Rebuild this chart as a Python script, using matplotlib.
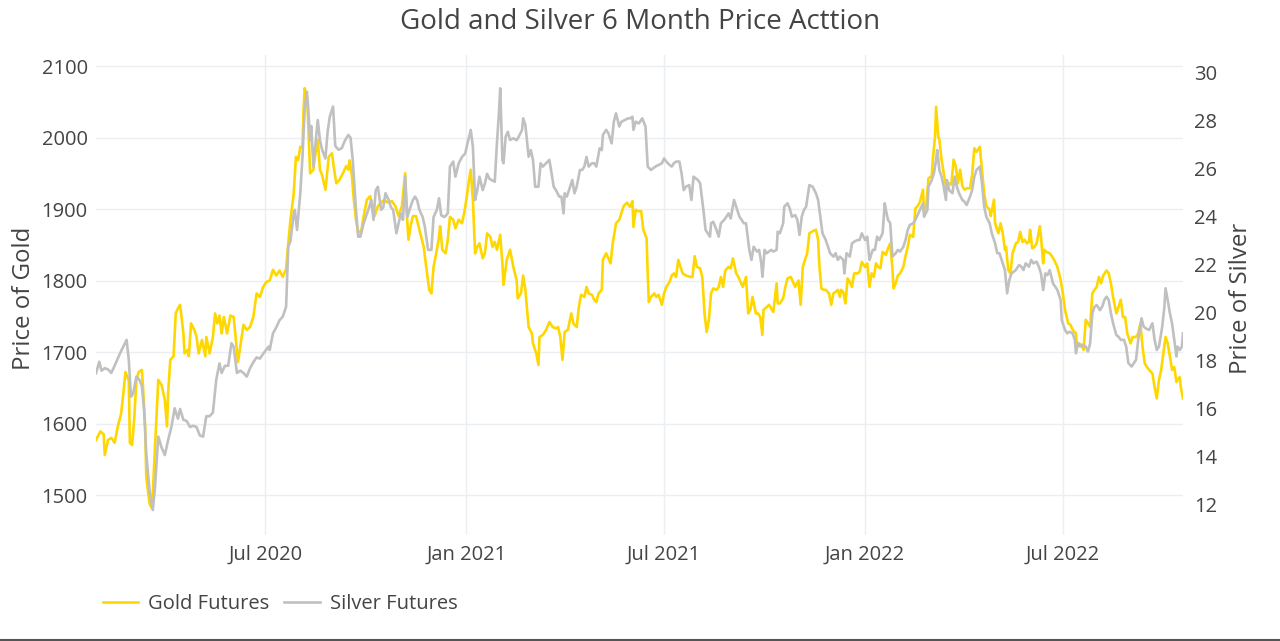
import matplotlib
matplotlib.use("Agg")
import matplotlib.pyplot as plt
import matplotlib.dates as mdates
from matplotlib.lines import Line2D
import pandas as pd

plt.rcParams["font.family"] = ["Open Sans", "DejaVu Sans"]

title = "Gold and Silver 6 Month Price Acttion"
start_date = "2020-01-28"

# days after start_date
gold_day = [
  0, 4, 7, 8, 11, 14, 17, 20, 23, 25,
  27, 30, 31, 33, 35, 37, 39, 42, 43, 45,
  46, 49, 51, 52, 55, 57, 60, 63, 65, 66,
  68, 71, 73, 75, 77, 80, 81, 84, 85, 87,
  90, 92, 94, 97, 100, 101, 104, 107, 109, 111,
  113, 115, 117, 120, 123, 126, 128, 130, 133, 135,
  138, 141, 144, 147, 150, 153, 156, 159,
  162, 165, 168, 171, 174, 176, 178, 181, 183, 185,
  187, 189, 190, 191, 193, 194, 196, 199, 200, 203,
  205, 207, 210, 211, 213, 216, 218, 220, 223, 226,
  229, 231, 232, 234, 236, 238, 240, 243, 245, 248,
  251, 253, 255, 258, 261, 264, 267, 271, 274, 277,
  280, 283, 284, 286, 288, 290, 293, 296, 300, 303,
  305, 307, 309, 312, 314, 315, 317, 320, 322,
  324, 327, 329, 332, 335, 337, 339, 341, 343, 345,
  347, 349, 351, 354, 356, 358, 361, 363, 365, 367,
  370, 372, 373, 376, 379, 382, 385, 386, 389, 391,
  393, 396, 399, 400, 403, 405, 406, 409, 412, 415,
  418, 421, 423, 425, 427, 429, 432, 435, 437, 440,
  442, 444, 447, 449, 451, 454, 456, 458, 460, 463,
  464, 467, 469, 471, 473, 476, 479, 483, 486,
  489, 491, 492, 494, 496, 499, 501, 504, 505, 506,
  508, 511, 513, 515, 518, 520, 522, 525, 527, 529,
  531, 533, 535, 537, 540, 544, 546, 548, 550, 553,
  555, 557, 559, 561, 563, 565, 568, 570, 572, 574,
  576, 579, 581, 583, 586, 588, 590, 592, 595, 597,
  599, 601, 604, 606, 608, 610, 611, 614, 616, 618,
  620, 623, 624, 626, 629, 631, 633, 636, 638, 640,
  643, 645, 647, 649, 651,
  653, 656, 659, 661, 662, 664, 666, 668, 671, 673,
  675, 677, 679, 681, 682, 684, 686, 688, 690, 692,
  694, 697, 699, 701, 704, 706, 708, 710, 712, 714,
  716, 718, 720, 723, 725, 727, 729, 730, 732, 734,
  736, 739, 741, 743, 745, 748, 750, 752, 754, 757,
  758, 760, 762, 765, 766, 768, 769, 771, 772, 774,
  776, 778, 781, 783, 785, 787, 789, 791, 793, 795,
  797, 800, 802, 804, 806, 809, 811, 813, 815,
  818, 819, 822, 823, 826, 828, 830, 832, 833, 835,
  837, 839, 842, 844, 846, 848, 850, 852, 854, 855,
  857, 859, 861, 864, 865, 867, 868, 870, 873, 875,
  877, 880, 883, 885, 887, 890, 892, 894, 897, 898,
  900, 902, 904, 906, 908, 910, 912, 914, 916, 918,
  920, 922, 925, 927, 929, 931, 934, 936, 938, 940,
  942, 944, 947, 949, 952, 954, 956, 958, 960, 962,
  964, 967, 969, 971, 973, 975, 977, 979, 981, 983,
  985, 987, 989, 990, 992, 993, 995,
]
gold_price = [
  1577, 1589, 1585, 1556, 1577, 1580, 1573, 1596, 1614, 1642,
  1672, 1660, 1573, 1570, 1607, 1661, 1672, 1675, 1652, 1596,
  1526, 1488, 1482, 1503, 1596, 1661, 1654, 1633, 1596, 1642,
  1689, 1694, 1754, 1761, 1766, 1726, 1698, 1703, 1694, 1740,
  1731, 1721, 1698, 1717, 1694, 1721, 1698, 1721, 1754, 1740,
  1751, 1726, 1749, 1726, 1751, 1749, 1717, 1686, 1717, 1738,
  1731, 1735, 1749, 1782, 1777, 1791, 1798, 1800,
  1815, 1807, 1814, 1805, 1816, 1852, 1885, 1922, 1973, 1968,
  1987, 1987, 2038, 2069, 2058, 2030, 1950, 1955, 1968, 1997,
  1955, 1947, 1927, 1941, 1973, 1978, 1955, 1936, 1941, 1950,
  1960, 1955, 1968, 1950, 1913, 1885, 1866, 1871, 1890, 1913,
  1918, 1899, 1890, 1904, 1909, 1913, 1909, 1911, 1904, 1890,
  1904, 1950, 1904, 1857, 1876, 1890, 1890, 1871, 1847, 1810,
  1787, 1782, 1819, 1843, 1861, 1876, 1843, 1838, 1857,
  1889, 1885, 1873, 1885, 1880, 1894, 1913, 1936, 1955, 1913,
  1838, 1847, 1852, 1831, 1838, 1866, 1861, 1847, 1854, 1843,
  1864, 1824, 1794, 1829, 1843, 1819, 1801, 1775, 1782, 1807,
  1787, 1735, 1726, 1712, 1698, 1682, 1721, 1724, 1731, 1742,
  1735, 1733, 1735, 1721, 1689, 1728, 1731, 1754, 1740, 1735,
  1763, 1780, 1777, 1791, 1782, 1780, 1773, 1770, 1782, 1787,
  1829, 1838, 1831, 1824, 1852, 1880, 1885, 1904, 1909,
  1903, 1911, 1875, 1899, 1897, 1897, 1871, 1859, 1810, 1770,
  1777, 1782, 1777, 1780, 1766, 1782, 1791, 1798, 1807, 1810,
  1805, 1829, 1819, 1810, 1807, 1805, 1805, 1834, 1819, 1817,
  1805, 1754, 1728, 1745, 1782, 1789, 1787, 1791, 1805, 1791,
  1814, 1819, 1817, 1831, 1810, 1805, 1798, 1791, 1805, 1754,
  1759, 1777, 1754, 1754, 1749, 1724, 1759, 1763, 1766, 1761,
  1756, 1796, 1768, 1768, 1775, 1791, 1803, 1805, 1798, 1791,
  1800, 1766, 1819, 1829, 1838,
  1866, 1869, 1871, 1857, 1824, 1789, 1787, 1787, 1782, 1766,
  1782, 1784, 1787, 1777, 1787, 1784, 1768, 1803, 1798, 1791,
  1810, 1810, 1812, 1826, 1819, 1824, 1791, 1810, 1805, 1824,
  1819, 1817, 1840, 1836, 1845, 1852, 1817, 1789, 1796, 1807,
  1810, 1819, 1834, 1847, 1864, 1861, 1901, 1904, 1909, 1927,
  1894, 1904, 1943, 1946, 1969, 2001, 2043, 2001, 1997, 1969,
  1950, 1932, 1936, 1934, 1969, 1960, 1936, 1955, 1932, 1927,
  1929, 1929, 1948, 1985, 1980, 1987, 1955, 1922, 1904,
  1899, 1890, 1913, 1880, 1866, 1880, 1866, 1843, 1847, 1815,
  1810, 1838, 1852, 1854, 1868, 1854, 1857, 1852, 1854, 1871,
  1845, 1847, 1852, 1876, 1861, 1824, 1843, 1840, 1838, 1834,
  1829, 1819, 1801, 1782, 1759, 1740, 1738, 1731, 1726, 1707,
  1712, 1710, 1703, 1745, 1740, 1735, 1782, 1787, 1791, 1805,
  1796, 1807, 1814, 1810, 1796, 1777, 1754, 1763, 1773, 1749,
  1749, 1726, 1712, 1721, 1721, 1726, 1740, 1707, 1684, 1679,
  1675, 1670, 1651, 1635, 1661, 1675, 1698, 1721, 1712, 1694,
  1675, 1679, 1658, 1661, 1665, 1651, 1635,
]

silver_day = [
  0, 3, 5, 8, 11, 14, 17, 22, 25, 28,
  30, 32, 34, 37, 40, 42, 44, 46, 49, 52,
  54, 57, 60, 63, 66, 69, 72, 75, 77, 80,
  83, 86, 89, 92, 95, 98, 101, 104, 107, 110,
  113, 115, 118, 121, 124, 126, 129, 132, 135, 138,
  141, 144, 147, 150, 153, 158,
  159, 162, 165, 168, 171, 174, 176, 178, 181, 182,
  184, 187, 189, 191, 193, 194, 196, 197, 199, 201,
  203, 205, 207, 210, 212, 214, 217, 219, 222, 225,
  228, 231, 233, 235, 238, 240, 242, 245, 247, 250,
  252, 254, 256, 258, 261, 263, 265, 268, 270, 272,
  275, 277, 279, 281, 283, 285, 287, 290, 292, 294,
  296, 299, 301, 304, 307, 309, 312, 314, 316, 319,
  322,
  324, 327, 329, 332, 335, 338, 340, 342, 343, 345,
  347, 349, 351, 354, 356, 358, 360, 362, 365, 367,
  369, 370, 372, 373, 375, 377, 379, 382, 385, 387,
  390, 391, 393, 396, 398, 400, 402, 405, 407, 409,
  412, 415, 417, 419, 421, 424, 426, 428, 429, 431,
  434, 436, 438, 440, 443, 445, 447, 449, 451, 454,
  456, 458, 461, 463, 464, 467, 469, 472, 474, 476,
  479, 481, 484, 487,
  489, 491, 492, 494, 497, 500, 503, 505, 508, 510,
  512, 515, 518, 520, 522, 525, 527, 529, 531, 534,
  536, 538, 540, 543, 545, 547, 549, 551, 553, 556,
  558, 560, 562, 563, 565, 568, 570, 572, 575, 577,
  579, 581, 584, 586, 589, 591, 593, 595, 598, 600,
  602, 605, 607, 609, 610, 612, 614, 616, 618, 620,
  623, 624, 626, 629, 630, 633, 635, 637, 640, 642,
  644, 646, 648, 650,
  653, 656, 659, 661, 663, 665, 668, 670, 672, 675,
  677, 679, 681, 684, 685, 687, 690, 692, 694, 697,
  699, 701, 704, 706, 708, 711, 713, 715, 717, 720,
  722, 723, 725, 727, 729, 732, 734, 736, 739, 741,
  743, 745, 748, 750, 752, 754, 757, 758, 761, 762,
  765, 767, 769, 770, 772, 774, 776, 778, 779, 781,
  784, 786, 788, 790, 793, 795, 797, 800, 802, 804,
  806, 809, 811, 813, 815,
  818, 820, 823, 825, 827, 830, 832, 834, 836, 838,
  840, 842, 845, 847, 849, 851, 854, 856, 858, 861,
  863, 865, 867, 869, 871, 873, 876, 878, 880, 883,
  884, 887, 889, 891, 894, 896, 897, 899, 901, 903,
  906, 908, 910, 912, 914, 916, 919, 921, 923, 925,
  927, 929, 931, 934, 936, 938, 941, 943, 945, 948,
  950, 952, 954, 957, 959, 961, 964, 967, 969, 971,
  973, 976, 978, 979, 981, 983, 985, 987, 989, 990,
  992, 994, 995,
]
silver_price = [
  17.49, 17.97, 17.6, 17.7, 17.65, 17.5, 17.8, 18.32, 18.6, 18.88,
  18.05, 16.51, 16.65, 17.35, 17.2, 16.95, 15.96, 14.15, 12.6, 11.79,
  12.75, 14.85, 14.4, 14.08, 14.7, 15.25, 16.03, 15.6, 16.0, 15.55,
  15.5, 15.25, 15.3, 15.25, 14.9, 14.85, 15.7, 15.7, 15.85, 17.2,
  17.9, 17.5, 17.8, 17.8, 18.74, 18.6, 17.5, 17.6, 17.5, 17.35,
  17.7, 17.95, 18.15, 18.1, 18.3, 18.6,
  18.46, 19.15, 19.4, 19.7, 19.85, 20.26, 22.76, 23.0, 24.15, 24.3,
  23.46, 24.99, 26.51, 28.46, 29.22, 28.7, 27.2, 27.79, 26.1, 27.1,
  28.04, 27.2, 26.8, 26.44, 27.55, 28.18, 28.6, 26.96, 26.8, 26.87,
  27.2, 27.42, 27.3, 26.38, 24.29, 23.18, 23.18, 23.74, 24.0, 24.4,
  24.7, 23.88, 25.1, 25.26, 24.3, 24.4, 24.99, 24.7, 24.4, 24.3,
  23.32, 23.74, 24.15, 23.88, 25.68, 24.0, 24.3, 24.7, 24.85, 24.7,
  24.3, 24.0, 23.6, 22.63, 22.63, 24.0, 24.3, 24.78, 24.07, 24.0,
  24.15,
  26.1, 26.31, 25.68, 26.24, 26.5, 26.65, 27.07, 27.42, 27.63, 26.93,
  24.71, 25.12, 25.68, 25.12, 25.4, 25.8, 25.6, 25.54, 25.47, 27.07,
  28.46, 29.36, 26.38, 26.24, 27.35, 27.55, 27.21, 27.28, 27.2, 27.35,
  27.63, 28.11, 27.84, 26.51, 26.79, 26.38, 25.26, 25.26, 26.24, 26.1,
  26.24, 26.38, 25.82, 25.26, 25.12, 24.85, 24.85, 24.15, 24.99, 24.85,
  25.26, 25.54, 24.99, 25.26, 25.96, 25.96, 26.1, 26.5, 26.1, 26.24,
  26.24, 26.1, 26.86, 26.79, 27.42, 27.63, 27.49, 27.07, 27.97, 28.32,
  27.77, 27.97, 28.04, 28.11,
  28.11, 28.18, 27.63, 27.97, 27.9, 28.11, 27.77, 26.1, 25.96, 26.03,
  26.1, 26.17, 26.24, 26.44, 26.31, 26.17, 26.1, 26.24, 26.31, 26.31,
  25.82, 25.12, 25.26, 25.33, 24.71, 25.68, 25.61, 25.54, 25.4, 24.29,
  23.46, 23.32, 23.18, 23.74, 23.8, 23.46, 23.18, 23.74, 23.88, 24.01,
  24.15, 23.94, 24.71, 24.43, 24.01, 23.88, 23.74, 23.74, 22.63, 22.21,
  22.76, 22.56, 22.63, 22.07, 21.51, 22.63, 22.49, 22.56, 22.63, 22.56,
  22.63, 23.39, 23.32, 23.74, 24.43, 24.57, 24.36, 24.01, 24.08, 23.88,
  23.25, 24.01, 24.29, 24.43,
  25.33, 25.26, 24.99, 24.71, 24.01, 23.32, 23.04, 22.76, 22.49, 22.35,
  22.49, 22.21, 22.35, 22.21, 21.65, 22.49, 22.35, 22.9, 22.97, 23.04,
  23.04, 23.32, 23.04, 23.18, 22.21, 22.63, 22.63, 23.18, 23.04, 23.32,
  24.57, 24.29, 23.88, 23.74, 22.35, 22.49, 22.63, 22.56, 22.76, 23.04,
  23.46, 23.67, 23.74, 23.88, 24.08, 24.29, 24.57, 24.01, 24.29, 25.26,
  25.54, 25.82, 26.38, 26.79, 25.96, 25.68, 25.26, 24.71, 25.54, 25.12,
  24.99, 25.68, 25.26, 24.99, 24.71, 24.64, 24.5, 24.85, 25.12, 25.68,
  25.96, 26.1, 25.4, 24.43, 24.01,
  23.74, 23.32, 22.9, 22.49, 22.49, 22.07, 21.79, 20.82, 21.37, 21.65,
  21.72, 21.79, 22.0, 21.93, 21.79, 22.07, 21.93, 22.21, 22.07, 22.14,
  21.93, 21.65, 20.96, 21.65, 21.58, 21.79, 21.23, 21.1, 20.96, 20.54,
  19.71, 19.29, 19.15, 19.22, 19.15, 18.88, 18.32, 18.74, 18.6, 18.67,
  18.6, 18.39, 18.74, 19.99, 20.26, 20.33, 20.12, 20.26, 20.54, 20.68,
  20.54, 19.99, 19.57, 19.08, 19.01, 18.88, 18.88, 18.6, 17.91, 17.77,
  17.91, 18.05, 18.88, 19.78, 19.43, 19.36, 19.29, 19.57, 18.88, 18.46,
  18.6, 19.43, 20.26, 21.03, 20.54, 19.99, 19.57, 18.88, 18.19, 18.6,
  18.46, 18.6, 19.15,
]

gold_ticks = [1500, 1600, 1700, 1800, 1900, 2000, 2100]
silver_ticks = [12, 14, 16, 18, 20, 22, 24, 26, 28, 30]

GOLD = "#FFD700"
SILVER = "#C0C0C0"
TEXT = "#444444"
GRID = "#EBEEF3"

start = pd.Timestamp(start_date)
gold_dates = start + pd.to_timedelta(gold_day, unit="D")
silver_dates = start + pd.to_timedelta(silver_day, unit="D")

W, H = 1280, 641
fig = plt.figure(figsize=(W / 100, H / 100), dpi=100)
left, right, top, bottom = 96, 1183, 55, 535
ax = fig.add_axes([left / W, 1 - bottom / H, (right - left) / W, (bottom - top) / H])
ax2 = ax.twinx()

ax.plot(gold_dates, gold_price, color=GOLD, lw=1.9, label="Gold Futures")
ax2.plot(silver_dates, silver_price, color=SILVER, lw=1.9, label="Silver Futures")

ax.set_xlim(start, start + pd.Timedelta(days=max(gold_day)))
ax.set_ylim(1444.1, 2115.4)
ax2.set_ylim(10.75, 30.75)
ax.set_yticks(gold_ticks)
ax2.set_yticks(silver_ticks)

ax.xaxis.set_major_locator(mdates.MonthLocator(bymonth=[1, 7]))
ax.xaxis.set_major_formatter(mdates.DateFormatter("%b %Y"))

ax.grid(True, color=GRID, lw=1)
ax.set_axisbelow(True)
for a in (ax, ax2):
  for s in a.spines.values():
    s.set_visible(False)
  a.tick_params(length=0, labelsize=14.5, labelcolor=TEXT)
ax.tick_params(axis="y", pad=6)
ax.tick_params(axis="x", pad=7)
ax2.tick_params(axis="y", pad=8)

fig.text(0.5, 1 - 22 / H, title, ha="center", va="center", fontsize=20, color=TEXT)
fig.text(24 / W, 1 - 298 / H, "Price of Gold", rotation=90, ha="center", va="center",
         fontsize=17.3, color=TEXT)
fig.text(1241 / W, 1 - 298 / H, "Price of Silver", rotation=90, ha="center", va="center",
         fontsize=17.3, color=TEXT)

handles = [Line2D([], [], color=GOLD, lw=1.9), Line2D([], [], color=SILVER, lw=1.9)]
fig.legend(handles, ["Gold Futures", "Silver Futures"], loc="center left",
           bbox_to_anchor=(103 / W, 1 - 604 / H), ncol=2, frameon=False,
           fontsize=14.5, handlelength=1.74, handletextpad=0.5, columnspacing=0.75,
           borderpad=0, borderaxespad=0, labelcolor=TEXT)

# dark rule along the bottom edge of the screenshot
fig.add_artist(Line2D([0, 1], [1.5 / H, 1.5 / H], color="#555555", lw=1.5))

fig.savefig("out.png", dpi=100)
